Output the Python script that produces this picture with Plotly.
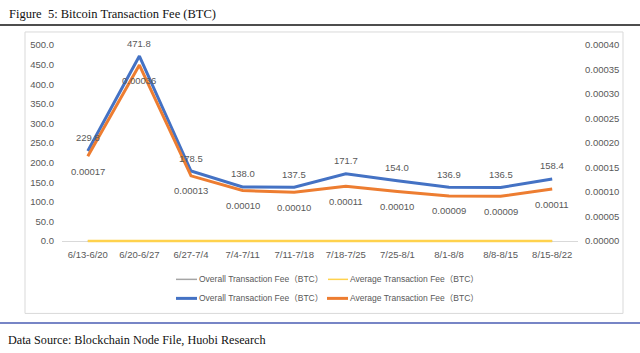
import plotly.graph_objects as go

# ---------------- data ----------------
categories = ["6/13-6/20", "6/20-6/27", "6/27-7/4", "7/4-7/11", "7/11-7/18",
              "7/18-7/25", "7/25-8/1", "8/1-8/8", "8/8-8/15", "8/15-8/22"]
overall_fee = [229.8, 471.8, 178.5, 138.0, 137.5, 171.7, 154.0, 136.9, 136.5, 158.4]
average_fee = [0.000173, 0.000359, 0.000133, 0.000103, 0.0000998, 0.000112,
               0.000101, 0.000092, 0.0000914, 0.000106]
zero_overall = [0] * 10
zero_average = [0] * 10
series_names = ["Overall Transaction Fee（BTC）", "Average Transaction Fee（BTC）"]
left_ticks = [0, 50, 100, 150, 200, 250, 300, 350, 400, 450, 500]
right_ticks = [0, 0.00005, 0.0001, 0.00015, 0.0002, 0.00025, 0.0003, 0.00035, 0.0004]
title_text = "Figure  5: Bitcoin Transaction Fee (BTC)"
source_text = "Data Source: Blockchain Node File, Huobi Research"

# ---------------- layout constants ----------------
W, H = 640, 353
ML, MR, MT, MB = 62, 62, 45, 110.3
PW, PH = W - ML - MR, H - MT - MB


def px(x):
    return (x - ML) / PW


def py(y):
    return (H - MB - y) / PH


SANS = "Liberation Sans, Arial, Noto Sans CJK SC, sans-serif"
SERIF = "Liberation Serif, Times New Roman, serif"
GRAY_TXT = "#595959"

fig = go.Figure()
fig.add_trace(go.Scatter(x=categories, y=zero_overall, mode="lines", name=series_names[0],
                         line=dict(color="#A5A5A5", width=1.5), yaxis="y", showlegend=False))
fig.add_trace(go.Scatter(x=categories, y=zero_average, mode="lines", name=series_names[1],
                         line=dict(color="#FFD24D", width=2.5), yaxis="y2", showlegend=False))
fig.add_trace(go.Scatter(x=categories, y=overall_fee, mode="lines", name=series_names[0],
                         line=dict(color="#4472C4", width=3), yaxis="y", showlegend=False))
fig.add_trace(go.Scatter(x=categories, y=average_fee, mode="lines", name=series_names[1],
                         line=dict(color="#ED7D31", width=3), yaxis="y2", showlegend=False))

annotations = []
for c, v in zip(categories, overall_fee):
    annotations.append(dict(x=c, y=v, xref="x", yref="y", text=f"{v:.1f}", showarrow=False,
                            yshift=13, font=dict(family=SANS, size=9.5, color=GRAY_TXT)))
for c, v in zip(categories, average_fee):
    annotations.append(dict(x=c, y=v, xref="x", yref="y2", text=f"{v:.5f}", showarrow=False,
                            yshift=-15, font=dict(family=SANS, size=9.5, color=GRAY_TXT)))

# title and source
annotations.append(dict(x=px(7), y=py(14), xref="paper", yref="paper", text=title_text,
                        showarrow=False, xanchor="left", yanchor="middle",
                        font=dict(family=SERIF, size=12.5, color="#111")))
annotations.append(dict(x=px(6), y=py(340), xref="paper", yref="paper", text=source_text,
                        showarrow=False, xanchor="left", yanchor="middle",
                        font=dict(family=SERIF, size=12.2, color="#111")))

shapes = [
    dict(type="rect", xref="paper", yref="paper", x0=px(25), x1=px(623), y0=py(32), y1=py(313),
         line=dict(color="#D9D9D9", width=1), fillcolor="rgba(0,0,0,0)", layer="below"),
    dict(type="line", xref="paper", yref="paper", x0=px(0), x1=px(640), y0=py(25), y1=py(25),
         line=dict(color="#4D4D4D", width=2)),
    dict(type="line", xref="paper", yref="paper", x0=px(0), x1=px(640), y0=py(322.7), y1=py(322.7),
         line=dict(color="#4A5DB3", width=1.5)),
]

# manual legend
legend_items = [
    (176, 197, 279, "#A5A5A5", 1.5, series_names[0]),
    (328, 348, 279, "#FFD24D", 1.5, series_names[1]),
    (176, 197, 298, "#4472C4", 3, series_names[0]),
    (327, 348, 298, "#ED7D31", 3, series_names[1]),
]
for x0, x1, yy, col, wd, name in legend_items:
    shapes.append(dict(type="line", xref="paper", yref="paper", x0=px(x0), x1=px(x1),
                       y0=py(yy), y1=py(yy), line=dict(color=col, width=wd)))
    annotations.append(dict(x=px(x1), y=py(yy), xref="paper", yref="paper", text=name,
                            showarrow=False, xanchor="left", yanchor="middle",
                            font=dict(family=SANS, size=8.5, color=GRAY_TXT)))

fig.update_layout(
    width=W, height=H,
    margin=dict(l=ML, r=MR, t=MT, b=MB, pad=0),
    paper_bgcolor="white", plot_bgcolor="white",
    showlegend=False,
    xaxis=dict(type="category", range=[-0.5, 9.5], showgrid=False, showline=False,
               zeroline=False, ticks="", tickfont=dict(family=SANS, size=9.5, color=GRAY_TXT),
               ticklabelstandoff=4),
    yaxis=dict(range=[-5, 500], tickmode="array", tickvals=left_ticks, tickformat=".1f",
               showgrid=False, showline=False, zeroline=True, zerolinecolor="#D9D9D9",
               zerolinewidth=1, ticks="", ticklabelstandoff=7,
               tickfont=dict(family=SANS, size=9.5, color=GRAY_TXT)),
    yaxis2=dict(range=[-0.000004, 0.0004], overlaying="y", side="right", tickmode="array",
                tickvals=right_ticks, tickformat=".5f", showgrid=False, showline=False,
                zeroline=False, ticks="", ticklabelstandoff=6,
                tickfont=dict(family=SANS, size=9.5, color=GRAY_TXT)),
    annotations=annotations,
    shapes=shapes,
)

fig.write_html("out.html")
